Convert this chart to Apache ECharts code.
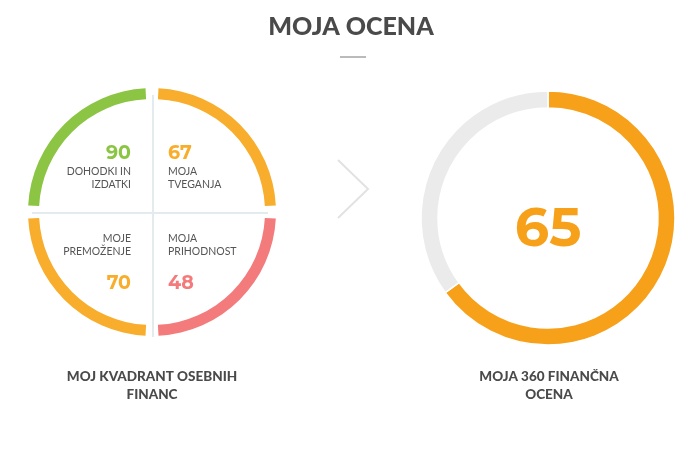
<!DOCTYPE html>
<html><head><meta charset="utf-8">
<script src="https://cdn.jsdelivr.net/npm/echarts@6/dist/echarts.min.js"></script>
<style>html,body{margin:0;padding:0;background:#fff}#c{width:700px;height:462px}</style>
</head><body><div id="c"></div>
<script>
// Data
var quadrantNames = ['MOJA\nTVEGANJA', 'MOJA\nPRIHODNOST', 'MOJE\nPREMOŽENJE', 'DOHODKI IN\nIZDATKI'];
var quadrantScores = [67, 48, 70, 90];
var quadrantShares = [25, 25, 25, 25];
var quadrantColors = ['#f8ae2c', '#f47b7b', '#f8ae2c', '#8bc543'];
var totalScore = 65;
var totalMax = 100;
var titleText = 'MOJA OCENA';
var leftCaption = 'MOJ KVADRANT OSEBNIH\nFINANC';
var rightCaption = 'MOJA 360 FINANČNA\nOCENA';

var chart = echarts.init(document.getElementById('c'));
var LC = [152, 212];
var RC = [548, 218];
var numFont = '"Montserrat", "Lato", "Open Sans", sans-serif';
var lblFont = '"Lato", "Open Sans", sans-serif';

function qText(i, x, yName, yNum, align) {
  return [
    {type: 'text', x: x, y: yNum, style: {text: String(quadrantScores[i]), fill: quadrantColors[i], font: 'bold 19px ' + numFont, align: align, verticalAlign: 'middle'}},
    {type: 'text', x: x, y: yName, style: {text: quadrantNames[i], fill: '#555', font: '10.5px ' + lblFont, align: align, verticalAlign: 'middle', lineHeight: 13}}
  ];
}

var graphics = [
  {type: 'text', x: 351, y: 27, style: {text: titleText, fill: '#4a4a4a', font: '900 25px "Lato", sans-serif', align: 'center', verticalAlign: 'middle'}},
  {type: 'line', shape: {x1: 340, y1: 57, x2: 366, y2: 57}, style: {stroke: '#777', lineWidth: 1}},
  {type: 'line', shape: {x1: LC[0] - 120, y1: LC[1] + 1, x2: LC[0] + 116, y2: LC[1] + 1}, style: {stroke: '#e4ebef', lineWidth: 2}},
  {type: 'line', shape: {x1: LC[0] + 1, y1: LC[1] - 117, x2: LC[0] + 1, y2: LC[1] + 125}, style: {stroke: '#e4ebef', lineWidth: 2}},
  {type: 'polyline', shape: {points: [[338, 160], [368, 189], [338, 218]]}, style: {stroke: '#e2e2e2', lineWidth: 2, fill: null}},
  {type: 'text', x: 152, y: 386, style: {text: leftCaption, fill: '#4a4a4a', font: '900 13.5px "Lato", sans-serif', align: 'center', verticalAlign: 'middle', lineHeight: 18}},
  {type: 'text', x: 549, y: 386, style: {text: rightCaption, fill: '#4a4a4a', font: '900 13.5px "Lato", sans-serif', align: 'center', verticalAlign: 'middle', lineHeight: 18}},
  {type: 'text', x: RC[0], y: RC[1] + 12, style: {text: String(totalScore), fill: '#f7a11b', font: 'bold 54px ' + numFont, align: 'center', verticalAlign: 'middle'}}
];
graphics = graphics
  .concat(qText(0, 168, 178, 153, 'left'))
  .concat(qText(1, 168, 245, 283, 'left'))
  .concat(qText(2, 131, 245, 283, 'right'))
  .concat(qText(3, 131, 178, 153, 'right'));

chart.setOption({
  animation: false,
  graphic: graphics,
  series: [
    {
      type: 'pie', center: LC, radius: [113, 124], startAngle: 90, clockwise: true,
      padAngle: 6, silent: true, label: {show: false}, labelLine: {show: false},
      data: quadrantShares.map(function (v, i) { return {value: v, name: quadrantNames[i], itemStyle: {color: quadrantColors[i]}}; })
    },
    {
      type: 'pie', center: RC, radius: [110, 127], startAngle: 90, clockwise: true,
      silent: true, label: {show: false}, labelLine: {show: false},
      itemStyle: {borderColor: '#fff', borderWidth: 1.5},
      data: [
        {value: totalScore, name: 'score', itemStyle: {color: '#f7a11b'}},
        {value: totalMax - totalScore, name: 'rest', itemStyle: {color: '#ebebeb'}}
      ]
    }
  ]
});
</script></body></html>
